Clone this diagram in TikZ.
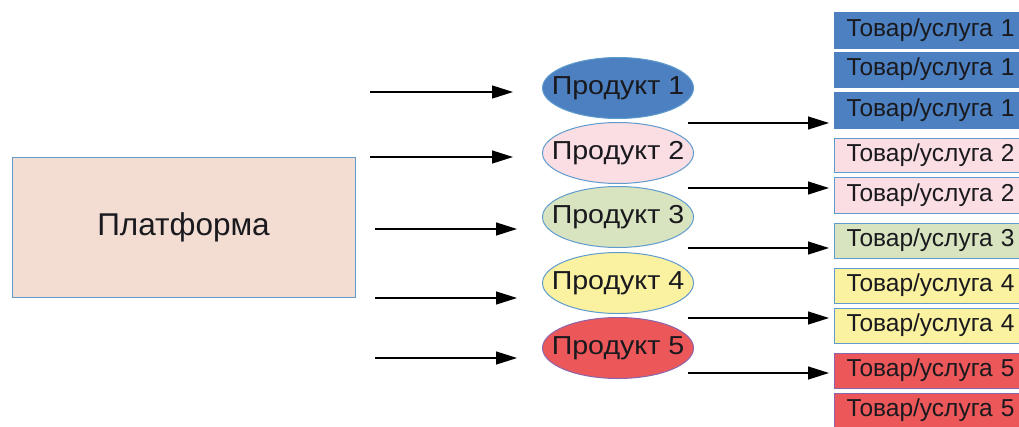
\documentclass[tikz,border=0pt]{standalone}
\usepackage{fontspec}
\setmainfont{Liberation Sans}
\usetikzlibrary{shapes.geometric,arrows.meta}
\definecolor{bordc}{RGB}{95,155,205}
\definecolor{platc}{RGB}{243,221,211}
\definecolor{bluec}{RGB}{76,128,192}
\definecolor{pinkc}{RGB}{250,222,228}
\definecolor{greenc}{RGB}{216,228,192}
\definecolor{yellowc}{RGB}{250,242,160}
\definecolor{redc}{RGB}{236,88,90}
\definecolor{redbord}{RGB}{140,100,170}
\definecolor{txtc}{RGB}{25,25,30}
\newcommand{\prodtxt}[1]{\makebox[0pt]{\scalebox{1.1}[1]{#1}}}
\tikzset{
  prod/.style={ellipse, draw=bordc, line width=1pt, minimum width=151, minimum height=61, inner sep=0pt, text=txtc, font=\fontsize{26}{26}\selectfont},
  tbox/.style={rectangle, draw=bordc, line width=1pt, anchor=west, minimum width=200, text width=176, inner xsep=12pt, inner ysep=0pt, align=left, text=txtc, font=\fontsize{24.5}{24.5}\selectfont},
  arr/.style={-{Triangle[length=21pt,width=13pt]}, line width=1.3pt, black}
}
\begin{document}
\begin{tikzpicture}[x=1pt,y=-1pt]
\clip (0,0) rectangle (1019,426);
\fill[white] (0,0) rectangle (1019,426);
\node[rectangle, draw=bordc, line width=1pt, fill=platc, minimum width=343, minimum height=140, text=txtc, font=\fontsize{31.5}{31.5}\selectfont] (plat) at (183.5,227) {Платформа};

\node[prod, fill=bluec] (p1) at (618,88) {\prodtxt{Продукт 1}};
\node[prod, fill=pinkc] (p2) at (618,153) {\prodtxt{Продукт 2}};
\node[prod, fill=greenc] (p3) at (618,217) {\prodtxt{Продукт 3}};
\node[prod, fill=yellowc] (p4) at (618,283) {\prodtxt{Продукт 4}};
\node[prod, fill=redc, draw=redbord] (p5) at (618,348) {\prodtxt{Продукт 5}};

\node[tbox, fill=bluec, draw=bluec, minimum height=36] (t1) at (834,30) {Товар/услуга 1};
\node[tbox, fill=bluec, draw=bluec, minimum height=35] (t2) at (834,69.5) {Товар/услуга 1};
\node[tbox, fill=bluec, draw=bluec, minimum height=36] (t3) at (834,110) {Товар/услуга 1};
\node[tbox, fill=pinkc, minimum height=34] (t4) at (834,155) {Товар/услуга 2};
\node[tbox, fill=pinkc, minimum height=36] (t5) at (834,195) {Товар/услуга 2};
\node[tbox, fill=greenc, minimum height=35] (t6) at (834,240.5) {Товар/услуга 3};
\node[tbox, fill=yellowc, minimum height=35] (t7) at (834,285.5) {Товар/услуга 4};
\node[tbox, fill=yellowc, minimum height=35] (t8) at (834,325.5) {Товар/услуга 4};
\node[tbox, fill=redc, draw=redbord, minimum height=35] (t9) at (834,370.5) {Товар/услуга 5};
\node[tbox, fill=redc, draw=redbord, minimum height=35] (t10) at (834,410.5) {Товар/услуга 5};

\coordinate (a1s) at (370,92);  \coordinate (a1e) at (513,92);
\coordinate (a2s) at (370,157); \coordinate (a2e) at (513,157);
\coordinate (a3s) at (375,229); \coordinate (a3e) at (517,229);
\coordinate (a4s) at (375,298); \coordinate (a4e) at (517,298);
\coordinate (a5s) at (375,358); \coordinate (a5e) at (517,358);
\coordinate (b1s) at (688,123); \coordinate (b1e) at (829,123);
\coordinate (b2s) at (688,188); \coordinate (b2e) at (829,188);
\coordinate (b3s) at (688,248); \coordinate (b3e) at (829,248);
\coordinate (b4s) at (688,318); \coordinate (b4e) at (829,318);
\coordinate (b5s) at (688,373); \coordinate (b5e) at (829,373);
\foreach \i in {1,...,5}{
  \draw[arr] (a\i s) -- (a\i e);
  \draw[arr] (b\i s) -- (b\i e);
}
\end{tikzpicture}
\end{document}
